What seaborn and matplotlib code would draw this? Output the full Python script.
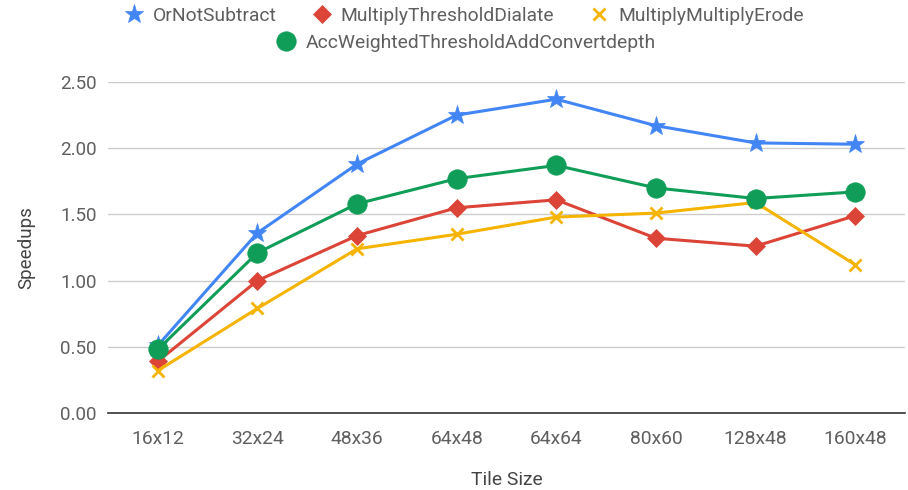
import matplotlib
matplotlib.use("Agg")
import matplotlib.pyplot as plt
import seaborn as sns
import pandas as pd
from matplotlib.lines import Line2D

tiles = ["16x12", "32x24", "48x36", "64x48", "64x64", "80x60", "128x48", "160x48"]
or_not_subtract = [0.51, 1.36, 1.88, 2.25, 2.37, 2.17, 2.04, 2.03]
mult_thresh_dialate = [0.39, 1.00, 1.34, 1.55, 1.61, 1.32, 1.26, 1.49]
mult_mult_erode = [0.32, 0.79, 1.24, 1.35, 1.48, 1.51, 1.59, 1.12]
acc_weighted = [0.48, 1.21, 1.58, 1.77, 1.87, 1.70, 1.62, 1.67]
yticks = [0.0, 0.5, 1.0, 1.5, 2.0, 2.5]

series = [
    ("OrNotSubtract", or_not_subtract, "#4285F4", "*", 14),
    ("MultiplyThresholdDialate", mult_thresh_dialate, "#DB4437", "D", 9),
    ("MultiplyMultiplyErode", mult_mult_erode, "#F4B400", "x", 9),
    ("AccWeightedThresholdAddConvertdepth", acc_weighted, "#0F9D58", "o", 14),
]

FS = 13.5
LFS = 13.9
TXT = "#5f5f5f"

sns.set_theme(style="white")
plt.rcParams["font.family"] = ["Roboto", "DejaVu Sans"]

fig = plt.figure(figsize=(9.08, 4.90), dpi=100)
ax = fig.add_axes([108/908, 1-413/490, (905-108)/908, (413-82)/490])

for name, vals, col, mk, ms in series:
    df = pd.DataFrame({"Tile Size": tiles, "Speedups": vals})
    sns.lineplot(data=df, x="Tile Size", y="Speedups", ax=ax, color=col,
                 marker=mk, markersize=ms, linewidth=2.2, markeredgecolor=col,
                 markeredgewidth=2 if mk == "x" else 0.5, label=None, legend=False)

ax.set_xlim(-0.5, len(tiles) - 0.5)
ax.set_ylim(0, 2.5)
ax.set_yticks(yticks)
ax.set_yticklabels([f"{v:.2f}" for v in yticks])
ax.grid(axis="y", color="#cccccc", linewidth=1)
ax.set_axisbelow(True)
for s in ["left", "right", "top"]:
    ax.spines[s].set_visible(False)
ax.spines["bottom"].set_color("#333333")
ax.spines["bottom"].set_linewidth(1.2)
ax.tick_params(axis="both", length=0, labelcolor=TXT)
ax.tick_params(axis="x", pad=12, labelsize=LFS)
ax.tick_params(axis="y", pad=8, labelsize=FS)
ax.set_xlabel("Tile Size", fontsize=LFS, color="#444444", labelpad=17)
ax.set_ylabel("Speedups", fontsize=FS, color="#444444", labelpad=18)

def handle(col, mk, ms):
    return Line2D([], [], color=col, marker=mk, markersize=ms, linestyle="none",
                  markeredgecolor=col, markeredgewidth=2 if mk == "x" else 0.5)

h1 = [handle(c, m, s) for _, _, c, m, s in series[:3]]
l1 = [n for n, *_ in series[:3]]
leg1 = fig.legend(h1, l1, loc="center", bbox_to_anchor=(0.51, 1-16/490), ncol=3,
                  frameon=False, fontsize=LFS, handletextpad=0.4, columnspacing=1.7,
                  handlelength=1.2)
for t in leg1.get_texts():
    t.set_color(TXT)
n, _, c, m, s = series[3]
leg2 = fig.legend([handle(c, m, s)], [n], loc="center", bbox_to_anchor=(0.512, 1-43/490),
                  frameon=False, fontsize=LFS, handletextpad=0.4, handlelength=1.2)
for t in leg2.get_texts():
    t.set_color(TXT)

fig.savefig("out.png", dpi=100)
